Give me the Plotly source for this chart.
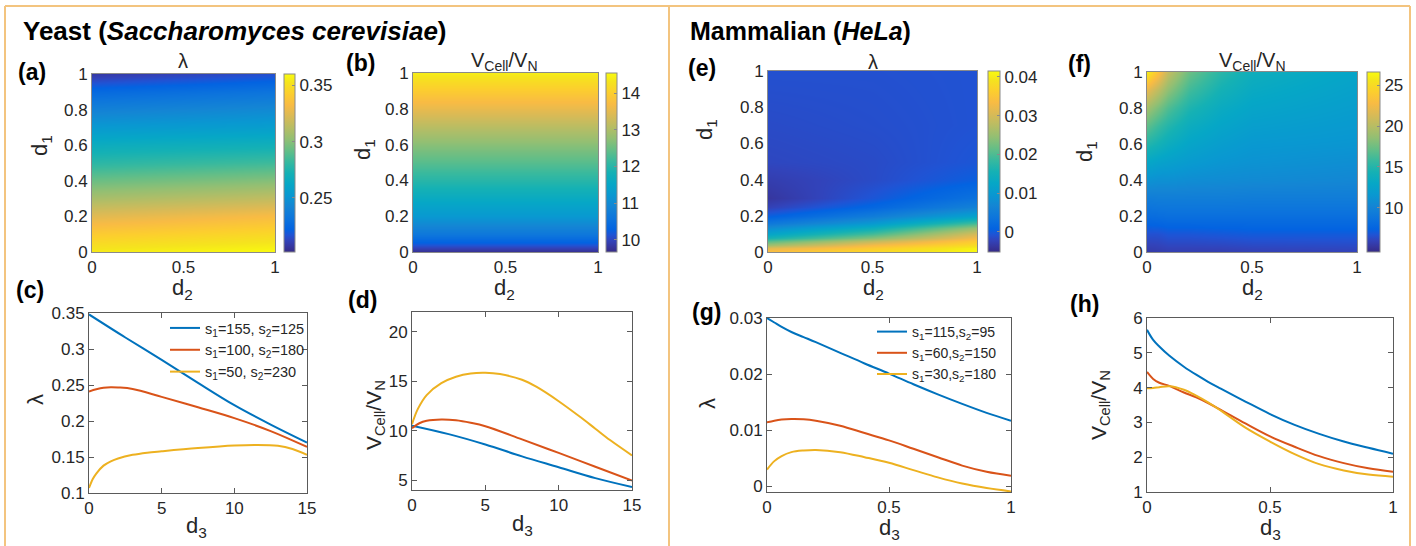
import plotly.graph_objects as go

W, H = 1416, 546
FONT = "Liberation Sans, Arial, sans-serif"
TXT = "#262626"
AXC = "#5a5a5a"
BLUE, RED, YEL = "#0072BD", "#D95319", "#EDB120"

# ---------------- data ----------------
# (a) yeast, lambda over (d2, d1)
A_D2 = [0, 0.5, 1]
A_D1 = [0, 0.1, 0.2, 0.3, 0.4, 0.5, 0.6, 0.7, 0.8, 0.9, 1.0]
A_LAMBDA = [
    [0.355, 0.3575, 0.360],
    [0.341, 0.344, 0.347],
    [0.325, 0.329, 0.333],
    [0.309, 0.3125, 0.316],
    [0.294, 0.297, 0.300],
    [0.279, 0.2815, 0.284],
    [0.267, 0.2685, 0.270],
    [0.253, 0.2545, 0.256],
    [0.240, 0.2425, 0.245],
    [0.226, 0.229, 0.232],
    [0.208, 0.212, 0.216],
]
A_CB_RANGE = [0.202, 0.360]
A_CB_TICKS = [0.25, 0.3, 0.35]
A_CB_LABELS = ["0.25", "0.3", "0.35"]

# (b) yeast, V_cell/V_N over (d2, d1)
B_D2 = [0, 1]
B_D1 = [0, 0.05, 0.1, 0.2, 0.3, 0.4, 0.5, 0.6, 0.7, 0.8, 0.9, 1.0]
B_RATIO = [
    [9.72, 9.72],
    [10.25, 10.25],
    [10.65, 10.65],
    [11.23, 11.23],
    [11.62, 11.62],
    [12.01, 12.01],
    [12.35, 12.35],
    [12.70, 12.70],
    [13.09, 13.09],
    [13.53, 13.53],
    [13.96, 13.96],
    [14.40, 14.40],
]
B_CB_RANGE = [9.67, 14.55]
B_CB_TICKS = [10, 11, 12, 13, 14]
B_CB_LABELS = ["10", "11", "12", "13", "14"]

# (e) HeLa, lambda over (d2, d1)
E_D2 = [0, 0.5, 1]
E_D1 = [0, 0.02, 0.04, 0.06, 0.08, 0.1, 0.13, 0.16, 0.2, 0.25, 0.3, 0.4, 0.5, 0.7, 1.0]
E_LAMBDA = [
    [0.0345, 0.0378, 0.0415],
    [0.0312, 0.0359, 0.0406],
    [0.0256, 0.0331, 0.0382],
    [0.0205, 0.0284, 0.0359],
    [0.0158, 0.0238, 0.0331],
    [0.0121, 0.0196, 0.0303],
    [0.0079, 0.0144, 0.0252],
    [0.0041, 0.0097, 0.0191],
    [0.0004, 0.0051, 0.0116],
    [-0.0024, 0.0013, 0.0060],
    [-0.0038, -0.0005, 0.0032],
    [-0.0029, -0.0015, 0.0004],
    [-0.0019, -0.0015, -0.0005],
    [-0.0015, -0.0012, -0.0008],
    [-0.0010, -0.0010, -0.0008],
]
E_CB_RANGE = [-0.0052, 0.0415]
E_CB_TICKS = [0, 0.01, 0.02, 0.03, 0.04]
E_CB_LABELS = ["0", "0.01", "0.02", "0.03", "0.04"]

# (f) HeLa, V_cell/V_N over (d2, d1)
F_D2 = [0, 0.05, 0.1, 0.2, 0.35, 0.5, 1]
F_D1 = [0, 0.1, 0.2, 0.3, 0.4, 0.5, 0.6, 0.7, 0.8, 0.9, 1.0]
F_RATIO = [
    [5.48, 5.59, 5.70, 5.70, 5.70, 5.81, 5.92],
    [6.58, 6.58, 6.80, 6.80, 6.91, 7.02, 7.02],
    [8.12, 8.23, 8.34, 8.34, 8.34, 8.34, 8.34],
    [9.44, 9.55, 9.55, 9.55, 9.55, 9.44, 9.44],
    [11.20, 10.98, 10.98, 10.76, 10.65, 10.54, 10.32],
    [12.96, 12.52, 12.30, 11.86, 11.42, 11.20, 10.87],
    [14.94, 14.28, 13.62, 12.74, 12.08, 11.64, 11.42],
    [16.92, 15.82, 14.94, 13.62, 12.74, 12.19, 11.75],
    [19.12, 17.80, 16.48, 14.72, 13.40, 12.74, 12.08],
    [21.98, 20.22, 18.46, 16.04, 14.28, 13.29, 12.41],
    [25.94, 23.30, 20.44, 17.36, 15.16, 13.84, 12.74],
]
F_CB_RANGE = [4.6, 26.6]
F_CB_TICKS = [10, 15, 20, 25]
F_CB_LABELS = ["10", "15", "20", "25"]

HEAT_X_TICKS = [0, 0.5, 1]
HEAT_X_LABELS = ["0", "0.5", "1"]
HEAT_Y_TICKS = [0, 0.2, 0.4, 0.6, 0.8, 1]
HEAT_Y_LABELS = ["0", "0.2", "0.4", "0.6", "0.8", "1"]

# (c) yeast, lambda vs d3 (one x list per curve)
C_X_BLUE = [0, 2.5, 5, 7.5, 10, 12.5, 15]
C_BLUE = [0.348, 0.316, 0.285, 0.253, 0.222, 0.195, 0.170]
C_X_RED = [0, 0.5, 1, 1.5, 2, 3, 5, 7.5, 10, 12.5, 15]
C_RED = [0.241, 0.244, 0.2462, 0.247, 0.2466, 0.2445, 0.2335, 0.219, 0.204, 0.186, 0.164]
C_X_YEL = [0, 0.25, 0.5, 1, 1.5, 2, 3, 4, 5, 7.5, 10, 11.5, 13, 14, 15]
C_YEL = [0.107, 0.119, 0.127, 0.138, 0.144, 0.148, 0.153, 0.156, 0.158, 0.1625,
         0.1660, 0.1668, 0.1655, 0.1610, 0.153]
C_NAMES = ["s<sub>1</sub>=155, s<sub>2</sub>=125",
           "s<sub>1</sub>=100, s<sub>2</sub>=180",
           "s<sub>1</sub>=50, s<sub>2</sub>=230"]
C_X_TICKS, C_X_LABELS = [0, 5, 10, 15], ["0", "5", "10", "15"]
C_Y_TICKS = [0.1, 0.15, 0.2, 0.25, 0.3, 0.35]
C_Y_LABELS = ["0.1", "0.15", "0.2", "0.25", "0.3", "0.35"]

# (d) yeast, V_cell/V_N vs d3
D_X_BLUE = [0, 2.5, 5, 7.5, 10, 12.5, 15]
D_BLUE = [10.5, 9.65, 8.6, 7.4, 6.3, 5.2, 4.3]
D_X_RED = [0, 0.5, 1, 2, 3, 4, 5, 7.5, 10, 12.5, 15]
D_RED = [10.25, 10.75, 11.0, 11.13, 11.05, 10.8, 10.45, 9.12, 7.75, 6.35, 4.95]
D_X_YEL = [0, 0.4, 1, 2, 3, 4, 5, 6, 7.5, 8.5, 10, 11.5, 12.5, 13.5, 15]
D_YEL = [10.65, 12.2, 13.6, 14.8, 15.45, 15.78, 15.85, 15.72, 15.15, 14.42, 12.98,
         11.35, 10.2, 9.05, 7.5]
D_X_TICKS, D_X_LABELS = [0, 5, 10, 15], ["0", "5", "10", "15"]
D_Y_TICKS, D_Y_LABELS = [5, 10, 15, 20], ["5", "10", "15", "20"]

# (g) HeLa, lambda vs d3
G_D3 = [0, 0.03, 0.06, 0.1, 0.15, 0.2, 0.3, 0.4, 0.5, 0.6, 0.7, 0.8, 0.9, 1.0]
G_BLUE = [0.0300, 0.0292, 0.0284, 0.0275, 0.0266, 0.0257, 0.0238, 0.0219, 0.0201,
          0.0182, 0.0164, 0.0147, 0.0131, 0.0117]
G_RED = [0.0114, 0.0117, 0.0119, 0.0120, 0.01195, 0.0117, 0.0108, 0.0095, 0.0082,
         0.0067, 0.0052, 0.0037, 0.0026, 0.0019]
G_YEL = [0.0030, 0.0045, 0.0054, 0.0061, 0.0064, 0.0065, 0.0061, 0.0052, 0.0042,
         0.0029, 0.0016, 0.0005, -0.0003, -0.0009]
G_NAMES = ["s<sub>1</sub>=115,s<sub>2</sub>=95",
           "s<sub>1</sub>=60,s<sub>2</sub>=150",
           "s<sub>1</sub>=30,s<sub>2</sub>=180"]
G_X_TICKS, G_X_LABELS = [0, 0.5, 1], ["0", "0.5", "1"]
G_Y_TICKS, G_Y_LABELS = [0, 0.01, 0.02, 0.03], ["0", "0.01", "0.02", "0.03"]

# (h) HeLa, V_cell/V_N vs d3
H_D3 = [0, 0.025, 0.05, 0.09, 0.15, 0.2, 0.25, 0.3, 0.4, 0.5, 0.6, 0.7, 0.8, 0.9, 1.0]
H_BLUE = [5.66, 5.37, 5.18, 4.92, 4.6, 4.37, 4.16, 3.97, 3.6, 3.24, 2.93, 2.67, 2.45, 2.27, 2.1]
H_RED = [4.45, 4.25, 4.14, 4.05, 3.86, 3.72, 3.55, 3.36, 2.97, 2.6, 2.3, 2.03, 1.83, 1.68, 1.58]
H_YEL = [3.98, 3.99, 4.01, 4.04, 3.94, 3.77, 3.57, 3.34, 2.85, 2.45, 2.09, 1.8, 1.62, 1.5, 1.44]
H_X_TICKS, H_X_LABELS = [0, 0.5, 1], ["0", "0.5", "1"]
H_Y_TICKS, H_Y_LABELS = [1, 2, 3, 4, 5, 6], ["1", "2", "3", "4", "5", "6"]

# MATLAB parula colormap stops (index out of 63)
PARULA = [
    (0, (0.2081, 0.1663, 0.5292)), (2, (0.2123, 0.2138, 0.6270)),
    (4, (0.1959, 0.2645, 0.7279)), (6, (0.1253, 0.3242, 0.8303)),
    (8, (0.0117, 0.3875, 0.8820)), (12, (0.0498, 0.4586, 0.8641)),
    (16, (0.0793, 0.5200, 0.8312)), (20, (0.0343, 0.5966, 0.8199)),
    (24, (0.0228, 0.6535, 0.7768)), (28, (0.0843, 0.6928, 0.7062)),
    (32, (0.2178, 0.7250, 0.6193)), (36, (0.3953, 0.7459, 0.5244)),
    (40, (0.5709, 0.7485, 0.4494)), (44, (0.7184, 0.7411, 0.3905)),
    (48, (0.8507, 0.7299, 0.3360)), (52, (0.9739, 0.7314, 0.2666)),
    (56, (0.9880, 0.8066, 0.1794)), (60, (0.9589, 0.8949, 0.1132)),
    (63, (0.9763, 0.9831, 0.0538)),
]
PARULA_SCALE = [[i / 63, "rgb(%d,%d,%d)" % tuple(round(c * 255) for c in rgb)]
                for i, rgb in PARULA]


# ---------------- helpers ----------------
def fx(px):
    return px / W


def fy(py):
    return 1 - py / H


def tfont(size=17):
    return dict(family=FONT, size=size, color=TXT)


fig = go.Figure()


def heat_axes(n, x0, x1, y0, y1):
    common = dict(showline=True, mirror=True, linecolor="#8a8a8a", linewidth=1,
                  ticks="", showgrid=False, zeroline=False, range=[0, 1],
                  tickfont=tfont())
    sx = "" if n == 1 else str(n)
    fig.update_layout(**{
        "xaxis" + sx: dict(common, domain=[fx(x0), fx(x1)], anchor="y" + sx,
                           tickvals=HEAT_X_TICKS, ticktext=HEAT_X_LABELS),
        "yaxis" + sx: dict(common, domain=[fy(y1), fy(y0)], anchor="x" + sx,
                           tickvals=HEAT_Y_TICKS, ticktext=HEAT_Y_LABELS),
    })
    return ("x" + sx, "y" + sx)


def line_axes(n, x0, x1, y0, y1, xr, yr, xt, xl, yt, yl):
    common = dict(showline=True, mirror="ticks", linecolor=AXC, linewidth=1,
                  ticks="inside", ticklen=5, tickcolor=AXC, showgrid=False,
                  zeroline=False, tickfont=tfont())
    sx = str(n)
    fig.update_layout(**{
        "xaxis" + sx: dict(common, domain=[fx(x0), fx(x1)], anchor="y" + sx,
                           range=xr, tickvals=xt, ticktext=xl),
        "yaxis" + sx: dict(common, domain=[fy(y1), fy(y0)], anchor="x" + sx,
                           range=yr, tickvals=yt, ticktext=yl),
    })
    return ("x" + sx, "y" + sx)


def colorbar(x0, y0, length, thick, ticks, labels):
    return dict(x=fx(x0), xanchor="left", xpad=0, y=fy(y0), yanchor="top", ypad=0,
                len=length, lenmode="pixels", thickness=thick, thicknessmode="pixels",
                outlinewidth=1, outlinecolor="#8a8a8a", ticks="inside", ticklen=3,
                tickcolor="#8a8a8a", tickvals=ticks, ticktext=labels,
                tickfont=tfont())


def add_heat(axes, x, y, z, rng, cb):
    fig.add_trace(go.Heatmap(x=x, y=y, z=z, zsmooth="best", colorscale=PARULA_SCALE,
                             zmin=rng[0], zmax=rng[1], colorbar=cb,
                             xaxis=axes[0], yaxis=axes[1], hoverinfo="skip"))


def add_lines(axes, curves, names, legend):
    for (xs, ys), col, nm in zip(curves, (BLUE, RED, YEL), names):
        fig.add_trace(go.Scatter(x=xs, y=ys, mode="lines", name=nm,
                                 line=dict(color=col, width=2, shape="spline"),
                                 xaxis=axes[0], yaxis=axes[1],
                                 showlegend=legend is not None,
                                 legend=legend or "legend"))


# ---------------- heatmaps ----------------
ax_a = heat_axes(1, 92, 275, 74, 252)
add_heat(ax_a, A_D2, A_D1, A_LAMBDA, A_CB_RANGE,
         colorbar(284, 74, 178, 11, A_CB_TICKS, A_CB_LABELS))
ax_b = heat_axes(2, 413, 598, 73, 252)
add_heat(ax_b, B_D2, B_D1, B_RATIO, B_CB_RANGE,
         colorbar(606, 73, 179, 11, B_CB_TICKS, B_CB_LABELS))
ax_e = heat_axes(3, 768, 977, 71, 252)
add_heat(ax_e, E_D2, E_D1, E_LAMBDA, E_CB_RANGE,
         colorbar(988, 71, 181, 12, E_CB_TICKS, E_CB_LABELS))
ax_f = heat_axes(4, 1147, 1357, 72, 252)
add_heat(ax_f, F_D2, F_D1, F_RATIO, F_CB_RANGE,
         colorbar(1367, 72, 180, 13, F_CB_TICKS, F_CB_LABELS))

# ---------------- line plots ----------------
ax_c = line_axes(5, 89, 307, 313, 493, [0, 15], [0.1, 0.35],
                 C_X_TICKS, C_X_LABELS, C_Y_TICKS, C_Y_LABELS)
add_lines(ax_c, [(C_X_BLUE, C_BLUE), (C_X_RED, C_RED), (C_X_YEL, C_YEL)],
          C_NAMES, "legend")
ax_d = line_axes(6, 412, 632, 312, 490, [0, 15], [4, 22],
                 D_X_TICKS, D_X_LABELS, D_Y_TICKS, D_Y_LABELS)
add_lines(ax_d, [(D_X_BLUE, D_BLUE), (D_X_RED, D_RED), (D_X_YEL, D_YEL)],
          ["", "", ""], None)
ax_g = line_axes(7, 767, 1011, 318, 492, [0, 1], [-0.001, 0.03],
                 G_X_TICKS, G_X_LABELS, G_Y_TICKS, G_Y_LABELS)
add_lines(ax_g, [(G_D3, G_BLUE), (G_D3, G_RED), (G_D3, G_YEL)], G_NAMES, "legend2")
ax_h = line_axes(8, 1147, 1393, 318, 492, [0, 1], [1, 6],
                 H_X_TICKS, H_X_LABELS, H_Y_TICKS, H_Y_LABELS)
add_lines(ax_h, [(H_D3, H_BLUE), (H_D3, H_RED), (H_D3, H_YEL)], ["", "", ""], None)

# ---------------- text ----------------
ANN = []


def ann(text, x, y, size, angle=0, xanchor="center", color=TXT):
    ANN.append(dict(text=text, x=fx(x), y=fy(y), xref="paper", yref="paper",
                    xanchor=xanchor, yanchor="middle", showarrow=False,
                    textangle=angle, font=dict(family=FONT, size=size, color=color)))


RATIO = "V<sub>Cell</sub>/V<sub>N</sub>"
ann("<b>Yeast (<i>Saccharomyces cerevisiae</i>)</b>", 21, 31, 26, xanchor="left", color="black")
ann("<b>Mammalian (<i>HeLa</i>)</b>", 688, 31, 25, xanchor="left", color="black")

for lab, x, y in [("(a)", 32, 72), ("(b)", 360, 63), ("(c)", 30, 290), ("(d)", 362, 300),
                  ("(e)", 702, 68), ("(f)", 1079, 64), ("(g)", 706, 312), ("(h)", 1084, 304)]:
    ann("<b>%s</b>" % lab, x, y, 23, color="black")

# heatmap titles
ann("λ", 183, 61, 20)
ann(RATIO, 505, 61, 20)
ann("λ", 873, 62, 20)
ann(RATIO, 1252, 61, 20)
# heatmap axis titles
for xc in (183, 505, 873, 1252):
    ann("d<sub>2</sub>", xc, 289, 22)
for xc, yc in ((41, 146), (364, 150), (706, 130), (1086, 152)):
    ann("d<sub>1</sub>", xc, yc, 22, angle=-90)
# line plot axis titles
for xc, yc in ((196, 527), (522, 525), (889, 529), (1270, 529)):
    ann("d<sub>3</sub>", xc, yc, 22)
ann("λ", 35, 400, 22, angle=-90)
ann("λ", 707, 404, 22, angle=-90)
ann(RATIO, 375, 415, 21, angle=-90)
ann(RATIO, 1100, 405, 21, angle=-90)

# orange panel frames
ORANGE = "#F3C47F"
SHAPES = [
    dict(type="line", xref="paper", yref="paper", x0=fx(5), x1=fx(1410), y0=fy(6), y1=fy(6)),
    dict(type="line", xref="paper", yref="paper", x0=fx(5), x1=fx(5), y0=fy(6), y1=fy(560)),
    dict(type="line", xref="paper", yref="paper", x0=fx(669), x1=fx(669), y0=fy(6), y1=fy(560)),
    dict(type="line", xref="paper", yref="paper", x0=fx(1410), x1=fx(1410), y0=fy(6), y1=fy(560)),
]
for s in SHAPES:
    s["line"] = dict(color=ORANGE, width=2)

legend_common = dict(xanchor="left", yanchor="top", bgcolor="rgba(0,0,0,0)",
                     borderwidth=0, itemwidth=30, tracegroupgap=0)

fig.update_layout(
    width=W, height=H,
    margin=dict(l=0, r=0, t=0, b=0, autoexpand=False),
    paper_bgcolor="white", plot_bgcolor="white",
    annotations=ANN, shapes=SHAPES,
    legend=dict(legend_common, x=fx(165), y=fy(312),
                font=dict(family=FONT, size=14.5, color=TXT)),
    legend2=dict(legend_common, x=fx(872), y=fy(316),
                 font=dict(family=FONT, size=14, color=TXT)),
    font=dict(family=FONT, color=TXT),
)

fig.write_html("out.html")
